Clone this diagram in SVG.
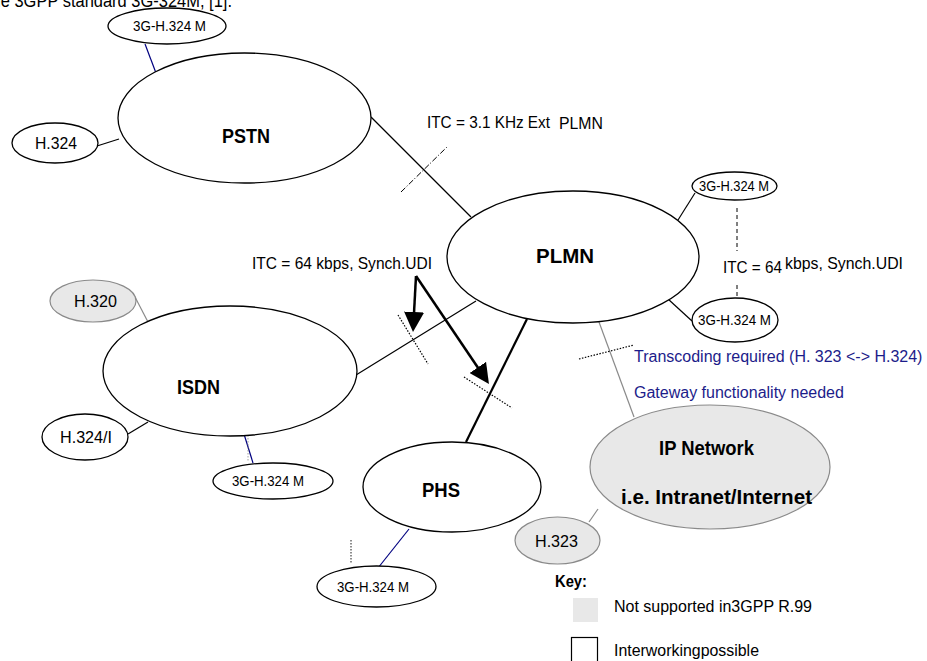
<svg xmlns="http://www.w3.org/2000/svg" width="927" height="661" viewBox="0 0 927 661">
<defs>
<style>
text{font-family:"Liberation Sans",Arial,sans-serif;fill:#000}
.n{fill:#fff;stroke:#000;stroke-width:1.3}
.g{fill:#e8e8e8;stroke:#8a8a8a;stroke-width:1.2}
.bold{font-weight:bold;font-size:20px}
.t13{font-size:14.5px}
.t16{font-size:16.5px}
.t15{font-size:16.5px}
.blue{fill:#1c1c8a}
.ln{stroke:#000;stroke-width:1.2;fill:none}
.lb{stroke:#000080;stroke-width:1.2;fill:none}
.lg{stroke:#8a8a8a;stroke-width:1.2;fill:none}
.dot{stroke:#000;stroke-width:1.2;fill:none;stroke-dasharray:1.5,1.5}
.arr{stroke:#000;stroke-width:2.5;fill:none;marker-end:url(#ah)}
</style>
<marker id="ah" markerUnits="userSpaceOnUse" markerWidth="20" markerHeight="20" refX="14" refY="10" orient="auto" viewBox="0 0 20 20">
<path d="M0,0 L20,10 L0,20 z" fill="#000"/>
</marker>
</defs>
<rect width="927" height="661" fill="#fff"/>
<text x="232" y="7" text-anchor="end" style="font-size:18px" textLength="245" lengthAdjust="spacingAndGlyphs">the 3GPP standard 3G-324M, [1].</text>

<g id="connectors">
<line class="lb" x1="145" y1="44" x2="156" y2="73"/>
<line class="ln" x1="97" y1="146" x2="119" y2="139"/>
<line class="ln" x1="371" y1="117" x2="471" y2="217"/>
<line class="ln" x1="401" y1="192" x2="447" y2="147" stroke-dasharray="6,2,1,2" style="stroke-width:1"/>
<line class="ln" x1="678" y1="220" x2="695" y2="193"/>
<line class="ln" x1="668" y1="299" x2="692" y2="321"/>
<line class="ln" x1="737" y1="208" x2="737" y2="251" stroke-dasharray="4,3" style="stroke-width:1"/>
<line class="ln" x1="737" y1="285" x2="737" y2="298" stroke-dasharray="4,3" style="stroke-width:1"/>
<line class="ln" x1="356" y1="375" x2="476" y2="301"/>
<line class="dot" x1="398" y1="315" x2="428" y2="364"/>
<line class="ln" x1="527" y1="319" x2="466" y2="442" style="stroke-width:2.2"/>
<line class="dot" x1="464" y1="377" x2="512" y2="408"/>
<line class="lg" x1="599" y1="322" x2="634" y2="417"/>
<line class="dot" x1="579" y1="359" x2="634" y2="345"/>
<line class="lg" x1="135" y1="297" x2="148" y2="322"/>
<line class="ln" x1="128" y1="434" x2="148" y2="422"/>
<line class="lb" x1="244" y1="434" x2="253" y2="463"/>
<line class="dot" x1="248" y1="435" x2="248" y2="462" style="stroke:#888;stroke-width:0.8"/>
<line class="lb" x1="409" y1="529" x2="378" y2="568"/>
<line class="dot" x1="351" y1="540" x2="351" y2="563" style="stroke-width:0.9"/>
<line class="lg" x1="589" y1="522" x2="598" y2="509"/>
<line class="arr" x1="416" y1="276" x2="413.3" y2="326"/>
<line class="arr" x1="416" y1="276" x2="485.6" y2="379"/>
</g>

<g id="pstn"><ellipse class="n" cx="244.5" cy="118" rx="126.5" ry="65"/><text class="bold" x="222" y="143" textLength="48" lengthAdjust="spacingAndGlyphs">PSTN</text></g>
<g id="pstn-3g"><ellipse class="n" cx="167" cy="26" rx="59" ry="18"/><text class="t13" x="133" y="31" textLength="73" lengthAdjust="spacingAndGlyphs">3G-H.324 M</text></g>
<g id="h324"><ellipse class="n" cx="55" cy="143" rx="43" ry="20"/><text class="t16" x="35" y="149" textLength="42" lengthAdjust="spacingAndGlyphs">H.324</text></g>

<g id="plmn"><ellipse class="n" cx="573" cy="257" rx="126" ry="66"/><text class="bold" x="536" y="263" textLength="58" lengthAdjust="spacingAndGlyphs">PLMN</text></g>
<g id="plmn-3g-top"><ellipse class="n" cx="734.5" cy="186" rx="42.5" ry="14"/><text class="t13" x="699" y="191" textLength="70" lengthAdjust="spacingAndGlyphs">3G-H.324 M</text></g>
<g id="plmn-3g-bottom"><ellipse class="n" cx="735" cy="320" rx="43" ry="22"/><text class="t13" x="698" y="325" textLength="73" lengthAdjust="spacingAndGlyphs">3G-H.324 M</text></g>

<g id="isdn"><ellipse class="n" cx="230" cy="371" rx="127" ry="65"/><text class="bold" x="177" y="394" textLength="43" lengthAdjust="spacingAndGlyphs">ISDN</text></g>
<g id="h320"><ellipse class="g" cx="93" cy="301" rx="43" ry="21"/><text class="t16" x="74" y="307" textLength="43" lengthAdjust="spacingAndGlyphs">H.320</text></g>
<g id="h324i"><ellipse class="n" cx="85" cy="437" rx="43" ry="23"/><text class="t16" x="60" y="443" textLength="52" lengthAdjust="spacingAndGlyphs">H.324/I</text></g>
<g id="isdn-3g"><ellipse class="n" cx="273" cy="481" rx="60" ry="18"/><text class="t13" x="232" y="486" textLength="72" lengthAdjust="spacingAndGlyphs">3G-H.324 M</text></g>

<g id="phs"><ellipse class="n" cx="452" cy="487" rx="89" ry="45"/><text class="bold" x="422" y="497" textLength="38" lengthAdjust="spacingAndGlyphs">PHS</text></g>
<g id="phs-3g"><ellipse class="n" cx="376.5" cy="586.5" rx="59.5" ry="20.5"/><text class="t13" x="337" y="592" textLength="72" lengthAdjust="spacingAndGlyphs">3G-H.324 M</text></g>

<g id="ip"><ellipse class="g" cx="710" cy="467" rx="120" ry="62"/><text class="bold" x="659" y="455" textLength="95" lengthAdjust="spacingAndGlyphs">IP Network</text><text class="bold" x="621" y="504" textLength="191" lengthAdjust="spacingAndGlyphs">i.e. Intranet/Internet</text></g>
<g id="h323"><ellipse class="g" cx="557.5" cy="540.5" rx="42.5" ry="23.5"/><text class="t16" x="535" y="547" textLength="43" lengthAdjust="spacingAndGlyphs">H.323</text></g>

<g id="labels">
<text x="427" y="128" class="t16" textLength="123" lengthAdjust="spacingAndGlyphs">ITC = 3.1 KHz Ext</text>
<text x="559" y="129" class="t16" textLength="44" lengthAdjust="spacingAndGlyphs">PLMN</text>
<text x="252" y="269" class="t15" textLength="180" lengthAdjust="spacingAndGlyphs">ITC = 64 kbps, Synch.UDI</text>
<text x="723" y="273" class="t15" textLength="59" lengthAdjust="spacingAndGlyphs">ITC = 64</text>
<text x="785" y="269" class="t15" textLength="118" lengthAdjust="spacingAndGlyphs">kbps, Synch.UDI</text>
<text x="634" y="362" class="blue" style="font-size:16px">Transcoding required (H. 323 &lt;-&gt; H.324)</text>
<text x="634" y="398" class="blue" style="font-size:16px">Gateway functionality needed</text>
</g>

<g id="key">
<text x="555" y="587" style="font-size:16px;font-weight:bold" textLength="32" lengthAdjust="spacingAndGlyphs">Key:</text>
<rect x="573" y="598" width="25" height="24" fill="#e8e8e8"/>
<text x="614" y="612" class="t16" textLength="198" lengthAdjust="spacingAndGlyphs">Not supported in3GPP R.99</text>
<rect x="571.5" y="637.5" width="26" height="30" fill="none" stroke="#000" stroke-width="1.2"/>
<text x="614" y="656" class="t16" textLength="145" lengthAdjust="spacingAndGlyphs">Interworkingpossible</text>
</g>
</svg>
